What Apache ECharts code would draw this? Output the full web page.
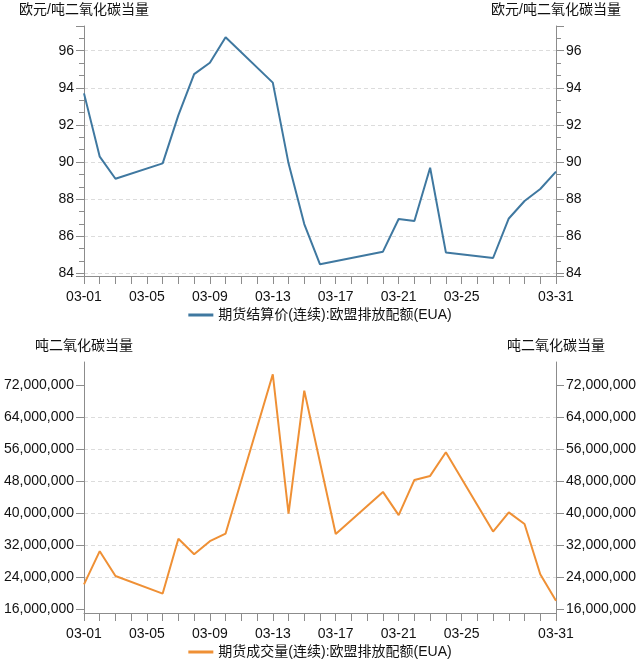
<!DOCTYPE html>
<html>
<head>
<meta charset="utf-8">
<script src="https://cdn.jsdelivr.net/npm/echarts@6/dist/echarts.min.js"></script>
<style>
html,body{margin:0;padding:0;background:#fff;}
#chart{width:640px;height:668px;}
</style>
</head>
<body>
<div id="chart"></div>
<script>
// ---- data ----
const dates = ['03-01','03-02','03-03','03-04','03-05','03-06','03-07','03-08','03-09','03-10',
  '03-11','03-12','03-13','03-14','03-15','03-16','03-17','03-18','03-19','03-20',
  '03-21','03-22','03-23','03-24','03-25','03-26','03-27','03-28','03-29','03-30','03-31'];
const priceName = '期货结算价(连续):欧盟排放配额(EUA)';
const volumeName = '期货成交量(连续):欧盟排放配额(EUA)';
const priceValues = [93.70, 90.29, 89.10, null, null, 89.93, 92.53, 94.74, 95.35, 96.72,
  null, null, 94.28, 89.93, 86.66, 84.49, null, null, null, 85.17,
  86.93, 86.82, 89.69, 85.13, null, null, 84.83, 86.96, 87.90, 88.55, 89.48];
const volumeValues = [22300000, 30600000, 24400000, null, null, 20000000, 33700000, 29850000, 33100000, 35000000,
  null, null, 74800000, 40000000, 70700000, null, 34900000, null, null, 45400000,
  39600000, 48400000, 49400000, 55300000, null, null, 35500000, 40300000, 37400000, 24850000, 18200000];
const priceTicks = [84, 86, 88, 90, 92, 94, 96];
const volumeTicks = [16000000, 24000000, 32000000, 40000000, 48000000, 56000000, 64000000, 72000000];
const priceRange = [83.86, 97.33];
const volumeRange = [15150000, 77860000];
const priceUnit = '欧元/吨二氧化碳当量';
const volumeUnit = '吨二氧化碳当量';

// ---- styles ----
const FONT = "'Liberation Sans', 'Noto Sans CJK SC', sans-serif";
const TEXT = '#111';
const AXIS = '#8c8c8c';
const BLUE = '#3f78a0';
const ORANGE = '#ef9035';

const chart = echarts.init(document.getElementById('chart'), null, {renderer: 'canvas'});

function xAxis(gridIndex) {
  return {
    type: 'category', gridIndex, data: dates, boundaryGap: false,
    axisLine: {lineStyle: {color: AXIS, width: 1}},
    axisTick: {show: true, interval: 0, length: 8, lineStyle: {color: AXIS}},
    axisLabel: {
      interval: (i) => (i % 4 === 0 && i <= 24) || i === 30,
      color: TEXT, fontSize: 14, fontFamily: FONT, margin: 14
    },
    splitLine: {show: false}
  };
}
function priceAxis(pos, showSplit) {
  return {
    type: 'value', gridIndex: 0, position: pos,
    min: priceRange[0], max: priceRange[1], splitNumber: 6,
    name: priceUnit, nameLocation: 'end', nameGap: 9,
    nameTextStyle: {color: TEXT, fontSize: 14, fontFamily: FONT},
    axisLine: {show: true, lineStyle: {color: AXIS}},
    axisTick: {show: true, length: 8, lineStyle: {color: AXIS}},
    minorTick: {show: true, splitNumber: 3, length: 5, lineStyle: {color: AXIS}},
    axisLabel: {color: TEXT, fontSize: 14, fontFamily: FONT, margin: 10, showMinLabel: false, showMaxLabel: false},
    splitLine: {show: showSplit, showMinLine: false, showMaxLine: false, lineStyle: {color: '#dcdcdc', type: [4, 3]}}
  };
}
function volumeAxis(pos, showSplit) {
  return {
    type: 'value', gridIndex: 1, position: pos,
    min: volumeRange[0], max: volumeRange[1],
    name: volumeUnit, nameLocation: 'end', nameGap: 9,
    nameTextStyle: {color: TEXT, fontSize: 14, fontFamily: FONT},
    axisLine: {show: true, lineStyle: {color: AXIS}},
    axisTick: {show: true, length: 8, lineStyle: {color: AXIS}, customValues: volumeTicks},
    axisLabel: {color: TEXT, fontSize: 14, fontFamily: FONT, margin: 10, customValues: volumeTicks,
      formatter: (v) => Math.round(v).toLocaleString('en-US')},
    splitLine: {show: showSplit, showMinLine: false, showMaxLine: false, lineStyle: {color: '#dcdcdc', type: [4, 3]}}
  };
}

const option = {
  backgroundColor: '#fff',
  animation: false,
  grid: [
    {left: 84, right: 84, top: 26, height: 250},
    {left: 84, right: 84, top: 362, height: 251}
  ],
  legend: [
    {data: [priceName], top: 303, left: 'center', icon: 'rect', itemWidth: 25, itemHeight: 3,
      textStyle: {color: TEXT, fontSize: 14, fontFamily: FONT}},
    {data: [volumeName], top: 640, left: 'center', icon: 'rect', itemWidth: 25, itemHeight: 3,
      textStyle: {color: TEXT, fontSize: 14, fontFamily: FONT}}
  ],
  xAxis: [xAxis(0), xAxis(1)],
  yAxis: [priceAxis('left', true), priceAxis('right', false), volumeAxis('left', true), volumeAxis('right', false)],
  series: [
    {name: priceName, type: 'line', xAxisIndex: 0, yAxisIndex: 0, data: priceValues,
      connectNulls: true, symbol: 'none', color: BLUE, lineStyle: {width: 2, color: BLUE}},
    {name: volumeName, type: 'line', xAxisIndex: 1, yAxisIndex: 2, data: volumeValues,
      connectNulls: true, symbol: 'none', color: ORANGE, lineStyle: {width: 2, color: ORANGE}}
  ]
};
chart.setOption(option);
</script>
</body>
</html>
